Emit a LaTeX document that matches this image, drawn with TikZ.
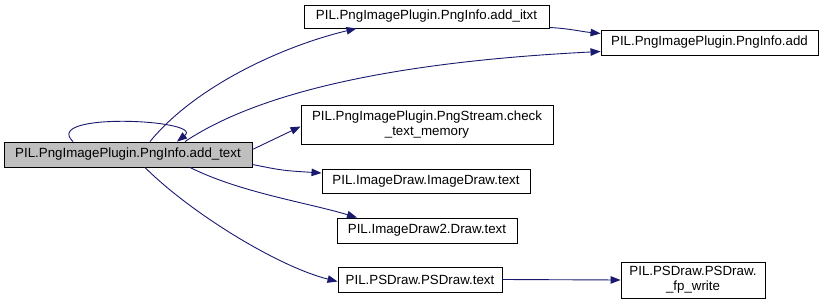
\documentclass[tikz,border=0pt]{standalone}
\usepackage{fontspec}
\setmainfont{Liberation Sans}
\usetikzlibrary{arrows.meta}
\definecolor{edgeblue}{RGB}{25,25,112}
\definecolor{curgray}{RGB}{191,191,191}
\begin{document}
\begin{tikzpicture}[x=1pt,y=-1pt,
  fn/.style={draw=black,line width=0.9pt,rectangle,inner sep=0pt,align=center,
    font=\fontsize{13.3}{15}\selectfont,fill=white},
  call/.style={draw=edgeblue,line width=0.9pt,-{Triangle[length=10pt,width=7.5pt]},fill=none}]
\useasboundingbox (0,0) rectangle (824,305);
% functions
\node[fn,fill=curgray,minimum width=248pt,minimum height=25pt] (main) at (128,154.5) {PIL.PngImagePlugin.PngInfo.add\_text};
\node[fn,minimum width=245pt,minimum height=23pt] (itxt) at (426.5,16.5) {PIL.PngImagePlugin.PngInfo.add\_itxt};
\node[fn,minimum width=217pt,minimum height=25pt] (add) at (709.5,42.5) {PIL.PngImagePlugin.PngInfo.add};
\node[fn,minimum width=252pt,minimum height=39pt] (chk) at (427,124.5) {PIL.PngImagePlugin.PngStream.check\\\_text\_memory};
\node[fn,minimum width=208pt,minimum height=24pt] (idt) at (426,181) {PIL.ImageDraw.ImageDraw.text};
\node[fn,minimum width=180pt,minimum height=25pt] (id2) at (427,230.5) {PIL.ImageDraw2.Draw.text};
\node[fn,minimum width=164pt,minimum height=25pt] (pst) at (420,279.5) {PIL.PSDraw.PSDraw.text};
\node[fn,minimum width=144pt,minimum height=36pt] (fpw) at (693,280) {PIL.PSDraw.PSDraw.\\\_fp\_write};
% calls
\draw[call] ([xshift=22pt]main.north) .. controls +(45,-55) and +(-75,18) .. ([xshift=-70pt]itxt.south);
\draw[call] ([xshift=57pt]main.north) .. controls +(90,-60) and +(-160,8) .. ([yshift=-9pt]add.west);
\draw[call] ([xshift=-55pt]main.north) .. controls +(-32,-30) and +(28,-22) .. ([xshift=49pt]main.north);
\draw[call] ([yshift=-11pt]itxt.east) .. controls +(20,1) and +(-20,-2) .. ([yshift=9pt]add.west);
\draw[call] ([yshift=5pt]main.east) -- ([yshift=-2pt]chk.west);
\draw[call] ([yshift=-10pt]main.east) .. controls +(30,6) .. ([yshift=8pt]idt.west);
\draw[call] ([xshift=62pt]main.south) .. controls +(50,25) and +(-50,-15) .. ([xshift=-70pt]id2.north);
\draw[call] ([xshift=17pt]main.south) .. controls +(45,45) and +(-60,-15) .. ([yshift=-2pt]pst.west);
\draw[call] (pst.east) -- (fpw.west);
\end{tikzpicture}
\end{document}
